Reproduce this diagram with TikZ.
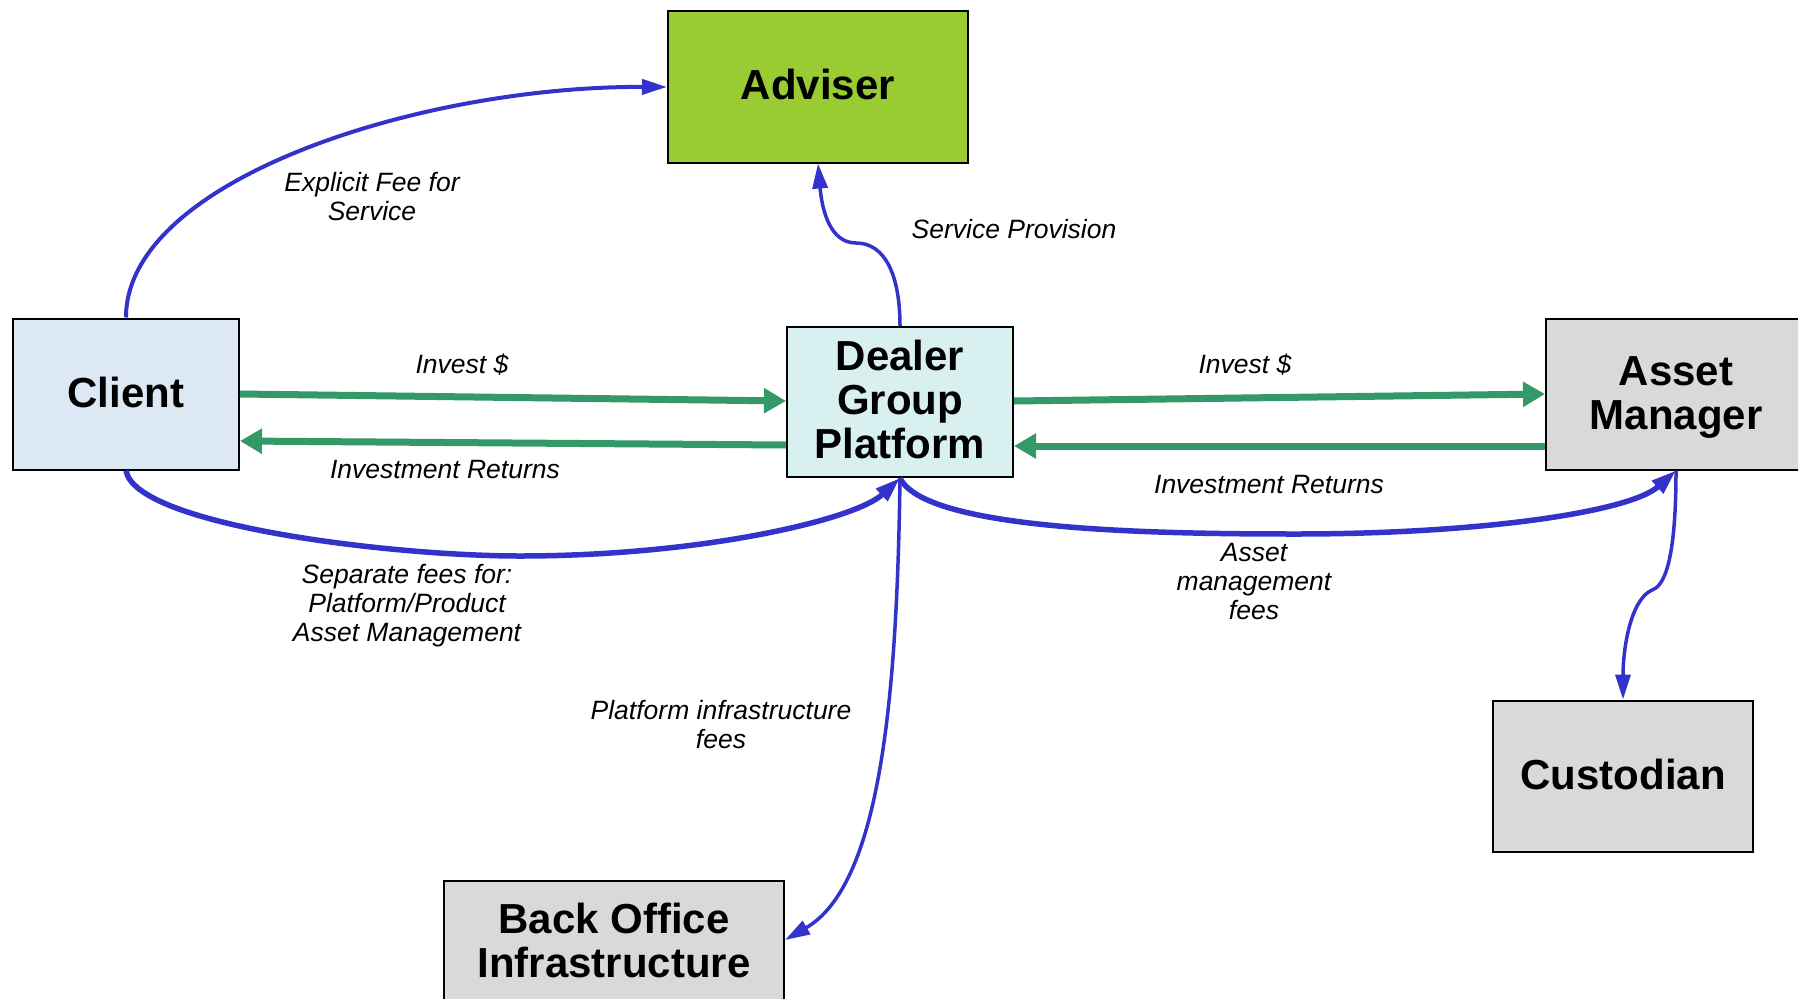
\documentclass[tikz,border=0pt]{standalone}
\usepackage{fontspec}
\setmainfont{Liberation Sans}
\usetikzlibrary{arrows.meta}
\definecolor{advgreen}{HTML}{99CC33}
\definecolor{clientblue}{HTML}{DCE8F4}
\definecolor{dealercyan}{HTML}{D9F0F0}
\definecolor{boxgrey}{HTML}{D9D9D9}
\definecolor{flowblue}{HTML}{3333CC}
\definecolor{flowgreen}{HTML}{339966}
\newcommand\liftby[2]{\raisebox{#1}[\height][\depth]{\begin{tabular}{@{}c@{}}#2\end{tabular}}}
\tikzset{
  box/.style={draw=black, line width=2pt, rectangle, align=center,
    font=\fontsize{42}{44}\selectfont\bfseries, inner sep=0pt},
  lbl/.style={font=\fontsize{26.5}{29}\selectfont\itshape, align=center, inner sep=0pt},
  money/.style={draw=flowgreen, line width=7pt, -{Triangle[length=22pt,width=24pt]}},
  fee/.style={draw=flowblue, line width=3.5pt, -{Triangle[length=25pt,width=15pt]}},
  feethick/.style={draw=flowblue, line width=5.5pt, -{Triangle[length=25pt,width=16pt]}},
}
\begin{document}
\begin{tikzpicture}[x=1pt,y=-1pt]
\clip (0,0) rectangle (1798,998);
\useasboundingbox (0,0) rectangle (1798,998);
\fill[white] (0,0) rectangle (1798,998);

\node[box, fill=advgreen, minimum width=300pt, minimum height=151pt] (adv) at (818,87) {\liftby{-3.4pt}{Adviser}};
\node[box, fill=clientblue, minimum width=226pt, minimum height=151pt] (cli) at (126,394) {\liftby{-4.6pt}{Client}};
\node[box, fill=dealercyan, minimum width=226pt, minimum height=150pt] (dgp) at (900,402) {\liftby{-4pt}{Dealer\\Group\\Platform}};
\node[box, fill=boxgrey, minimum width=260pt, minimum height=151pt] (am) at (1676,394) {\liftby{-4.6pt}{Asset\\Manager}};
\node[box, fill=boxgrey, minimum width=260pt, minimum height=151pt] (cus) at (1623,776) {\liftby{-4.6pt}{Custodian}};
\node[box, fill=boxgrey, minimum width=340pt, minimum height=151pt] (bo) at (614,956) {\liftby{9.2pt}{Back Office\\Infrastructure}};

% green money flows
\draw[money] (cli.east |- 0,394) -- (dgp.west |- 0,401);
\draw[money] (dgp.west |- 0,445) -- (cli.east |- 0,441);
\draw[money] (dgp.east |- 0,401) -- (am.west |- 0,394);
\draw[money] (am.west |- 0,446) -- (dgp.east |- 0,446);

% blue fee flows
\draw[fee, line width=4pt] (cli.north) .. controls (126,180) and (420,86) .. (adv.west);
\draw[fee] (dgp.north) .. controls (900,275) and (885,243) .. (856,243)
  .. controls (830,243) and (822,210) .. (adv.south);
\draw[feethick] (cli.south) .. controls (135,525) and (390,556) .. (520,556)
  .. controls (700,556) and (855,520) .. (dgp.south);
\draw[feethick] (dgp.south) .. controls (925,530) and (1150,534) .. (1296,534)
  .. controls (1480,534) and (1630,512) .. (am.south);
\draw[fee] (dgp.south) .. controls (897,700) and (880,885) .. (bo.east |- 0,940);
\draw[fee] (am.south) .. controls (1676,545) and (1668,585) .. (1652,590)
  .. controls (1630,600) and (1623,650) .. (cus.north);

% labels
\node[lbl] (l1) at (372,197) {Explicit Fee for\\Service};
\node[lbl] (l2) at (1014,229) {Service Provision};
\node[lbl] (l3) at (462,365) {Invest \$};
\node[lbl] (l4) at (445,470) {Investment Returns};
\node[lbl] (l5) at (407,606) {Separate fees for:\\Platform/Product\\Asset Management};
\node[lbl] (l6) at (1245,365) {Invest \$};
\node[lbl] (l7) at (1269,485) {Investment Returns};
\node[lbl] (l8) at (1254,582) {Asset\\management\\fees};
\node[lbl] (l9) at (721,725) {Platform infrastructure\\fees};
\end{tikzpicture}
\end{document}
